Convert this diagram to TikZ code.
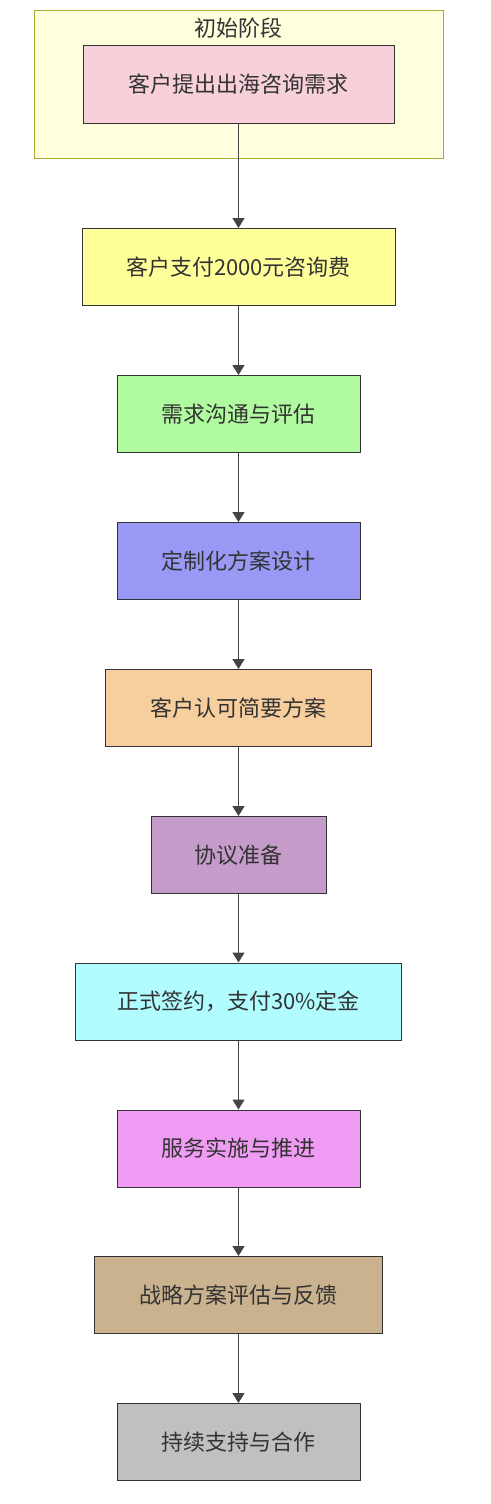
\documentclass[tikz,border=0pt]{standalone}
\usepackage{fontspec}
\newfontfamily\cjk{Noto Sans CJK SC}
\usetikzlibrary{positioning, arrows.meta}
\usepackage{xcolor}
\definecolor{txt}{HTML}{333333}
\definecolor{edge}{HTML}{444444}
\definecolor{grpfill}{HTML}{FFFFDE}
\definecolor{grpline}{HTML}{AAAA33}

\begin{document}
\begin{tikzpicture}[x=1pt,y=1pt,
    stage/.style={draw=txt, line width=1pt, minimum height=77pt, inner sep=0pt,
                  font=\cjk\fontsize{22}{26}\selectfont, text=txt},
    flow/.style={edge, line width=1.4pt, -{Triangle[length=10pt,width=12pt]}}]
    \useasboundingbox (0,0) rectangle (490,-1504);
    % group box
    \draw[grpline, fill=grpfill, line width=1pt] (34,-11) rectangle (443,-158);
    \node[font=\cjk\fontsize{22}{26}\selectfont, text=txt] (title) at (238.5,-28) {初始阶段};
    % steps
    \node[stage, fill={rgb,255:red,248;green,208;blue,218}, minimum width=311pt] (ask) at (238.5,-84.5) {客户提出出海咨询需求};
    \node[stage, fill={rgb,255:red,255;green,255;blue,153}, minimum width=313pt] (pay) at (238.5,-267) {客户支付2000元咨询费};
    \node[stage, fill={rgb,255:red,176;green,250;blue,160}, minimum width=243pt] (talk) at (238.5,-414) {需求沟通与评估};
    \node[stage, fill={rgb,255:red,153;green,153;blue,245}, minimum width=243pt] (design) at (238.5,-561) {定制化方案设计};
    \node[stage, fill={rgb,255:red,247;green,206;blue,158}, minimum width=266pt] (approve) at (238.5,-708) {客户认可简要方案};
    \node[stage, fill={rgb,255:red,197;green,155;blue,201}, minimum width=175pt] (prep) at (238.5,-855) {协议准备};
    \node[stage, fill={rgb,255:red,176;green,252;blue,255}, minimum width=326pt] (sign) at (238.5,-1001.5) {正式签约，支付30\%定金};
    \node[stage, fill={rgb,255:red,240;green,156;blue,244}, minimum width=243pt] (run) at (238.5,-1148.5) {服务实施与推进};
    \node[stage, fill={rgb,255:red,203;green,178;blue,142}, minimum width=288pt] (review) at (238.5,-1295) {战略方案评估与反馈};
    \node[stage, fill={rgb,255:red,192;green,192;blue,192}, minimum width=243pt] (keep) at (238.5,-1442) {持续支持与合作};
    % arrows
    \draw[flow] (ask) -- (pay);
    \draw[flow] (pay) -- (talk);
    \draw[flow] (talk) -- (design);
    \draw[flow] (design) -- (approve);
    \draw[flow] (approve) -- (prep);
    \draw[flow] (prep) -- (sign);
    \draw[flow] (sign) -- (run);
    \draw[flow] (run) -- (review);
    \draw[flow] (review) -- (keep);
\end{tikzpicture}
\end{document}
